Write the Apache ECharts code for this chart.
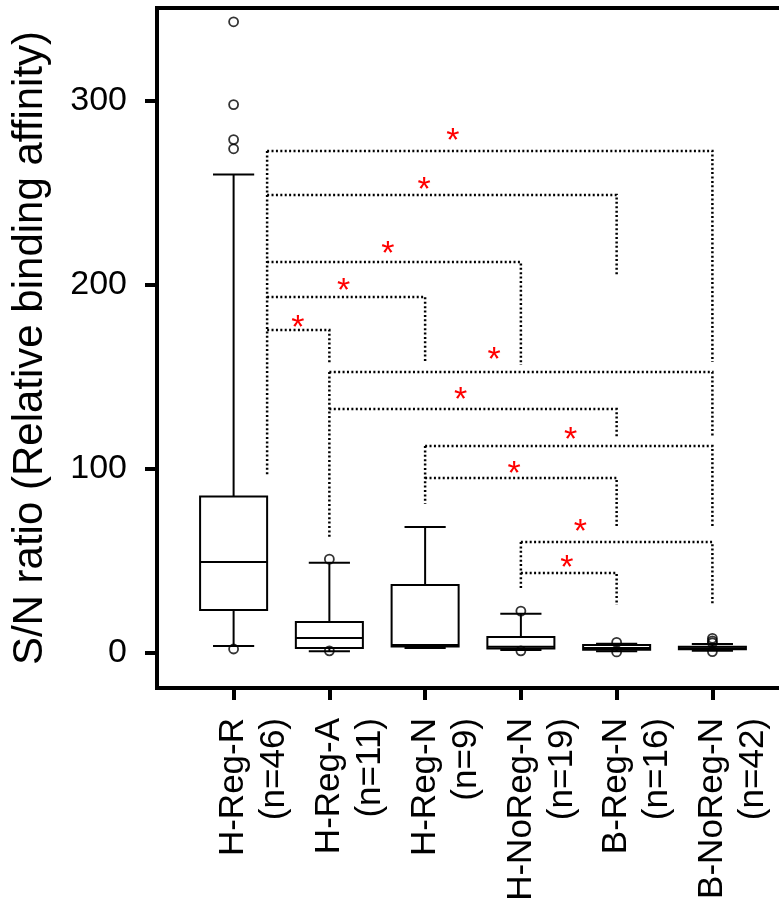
<!DOCTYPE html>
<html>
<head>
<meta charset="utf-8">
<script src="https://cdn.jsdelivr.net/npm/echarts@6.0.0/dist/echarts.min.js"></script>
<style>
  html, body { margin: 0; padding: 0; background: #fff; }
  #chart { width: 779px; height: 901px; }
</style>
</head>
<body>
<div id="chart"></div>
<script>
// groups and sample sizes
const categories = ['H-Reg-R', 'H-Reg-A', 'H-Reg-N', 'H-NoReg-N', 'B-Reg-N', 'B-NoReg-N'];
const counts = [46, 11, 9, 19, 16, 42];

// box statistics per group
const whiskerLow = [3.8, 1.0, 2.7, 1.6, 1.0, 1.3];
const q1 = [23.4, 2.7, 3.5, 2.5, 1.8, 2.0];
const median = [49.5, 8.2, 4.3, 3.4, 2.8, 2.6];
const q3 = [85, 16.8, 37, 8.7, 4.3, 3.4];
const whiskerHigh = [260, 49, 68.5, 21.4, 5.0, 4.9];

// outliers: group number + value
const outlierGroup = [1, 1, 1, 1, 1, 2, 2, 4, 4, 5, 5, 6, 6, 6, 6];
const outlierValue = [343, 298, 279, 274, 2.2, 51, 1.2, 22.8, 1.2, 5.8, 0.6, 8.0, 6.6, 5.6, 0.8];

// significance brackets (from group -> to group at height, right leg ends at drop)
const bracketFrom = [1.35, 1.35, 1.35, 1.35, 1.35, 2, 2, 3, 3, 4, 4];
const bracketTo = [6, 5, 4, 3, 2, 6, 5, 6, 5, 6, 5];
const bracketHeight = [272.8, 248.9, 212.5, 193.5, 175.5, 152.7, 132.6, 112.5, 95.1, 60.3, 43.5];
const bracketDrop = [158.2, 204.9, 156.5, 158.2, 157.6, 117.4, 117.4, 67.9, 67.9, 26.6, 26.1];

// shared left stems of bracket groups
const stemX = [1.35, 2, 3, 4];
const stemTop = [272.8, 152.7, 112.5, 60.3];
const stemBottom = [96.7, 62, 81, 35.3];

// red asterisks
const starX = [3.29, 2.99, 2.61, 2.15, 1.67, 3.72, 3.37, 4.52, 3.93, 4.62, 4.48];
const starY = [282.6, 255.9, 221.2, 201.1, 181.0, 163.6, 141.8, 120.1, 101.6, 70.1, 50.5];

const xTicks = [1, 2, 3, 4, 5, 6];
const yTicks = [0, 100, 200, 300];

function initBoxChart() {
    const chartDom = document.getElementById('chart');
    if (!chartDom) return;
    const chart = echarts.init(chartDom);

    const boxData = categories.map((c, i) => [i + 1, whiskerLow[i], q1[i], median[i], q3[i], whiskerHigh[i]]);
    const outlierData = outlierGroup.map((g, i) => [g, outlierValue[i]]);
    const bracketData = bracketFrom.map((f, i) => [f, bracketTo[i], bracketHeight[i], bracketDrop[i]]);
    const stemData = stemX.map((x, i) => [x, stemTop[i], stemBottom[i]]);
    const starData = starX.map((x, i) => [x, starY[i]]);

    const dotted = { stroke: '#000', lineWidth: 2.5, lineDash: [2, 2.4], fill: null };
    const labelFont = { color: '#000', fontFamily: 'Liberation Sans', fontSize: 35 };
    // second label line sits one line-height (~41px) right of the tick
    const lineShift = 41 / 95.8;

    const option = {
        animation: false,
        grid: {
            left: 157, top: 8, right: -10, bottom: 213,
            show: true, borderColor: '#000', borderWidth: 4,
            containLabel: false, outerBoundsMode: 'none'
        },
        xAxis: [
            {
                type: 'value',
                min: 0.2,
                max: 6.8,
                splitLine: { show: false },
                axisLine: { show: false, onZero: false },
                axisTick: {
                    show: true, customValues: xTicks, length: 12,
                    lineStyle: { color: '#000', width: 4 }
                },
                axisLabel: Object.assign({
                    customValues: xTicks,
                    formatter: v => categories[Math.round(v) - 1],
                    rotate: 90,
                    margin: 30
                }, labelFont)
            },
            {
                type: 'value',
                position: 'bottom',
                min: 0.2 - lineShift,
                max: 6.8 - lineShift,
                splitLine: { show: false },
                axisLine: { show: false, onZero: false },
                axisTick: { show: false },
                axisLabel: Object.assign({
                    customValues: xTicks,
                    formatter: v => '(n=' + counts[Math.round(v) - 1] + ')',
                    rotate: 90,
                    margin: 30
                }, labelFont)
            }
        ],
        yAxis: {
            type: 'value',
            min: -19,
            max: 350.5,
            splitLine: { show: false },
            axisLine: { show: false, onZero: false },
            axisTick: {
                show: true, customValues: yTicks, length: 12,
                lineStyle: { color: '#000', width: 4 }
            },
            axisLabel: {
                customValues: yTicks,
                margin: 30,
                color: '#000',
                fontFamily: 'Liberation Sans',
                fontSize: 34
            },
            name: 'S/N ratio (Relative binding affinity)',
            nameLocation: 'middle',
            nameGap: 106,
            nameTextStyle: { color: '#000', fontFamily: 'Liberation Sans', fontSize: 42 }
        },
        series: [
            {
                type: 'custom',
                data: boxData,
                encode: { x: 0, y: [1, 2, 3, 4, 5] },
                renderItem: function (params, api) {
                    const x = api.value(0);
                    const half = api.size([0.35, 0])[0];
                    const capHalf = api.size([0.215, 0])[0];
                    const lo = api.coord([x, api.value(1)]);
                    const b1 = api.coord([x, api.value(2)]);
                    const md = api.coord([x, api.value(3)]);
                    const b3 = api.coord([x, api.value(4)]);
                    const hi = api.coord([x, api.value(5)]);
                    const cx = lo[0];
                    const style = { stroke: '#000', lineWidth: 2, fill: null };
                    const line = (x1, y1, x2, y2) => ({ type: 'line', shape: { x1, y1, x2, y2 }, style });
                    return {
                        type: 'group',
                        children: [
                            line(cx, hi[1], cx, b3[1]),
                            line(cx, b1[1], cx, lo[1]),
                            line(cx - capHalf, hi[1], cx + capHalf, hi[1]),
                            line(cx - capHalf, lo[1], cx + capHalf, lo[1]),
                            { type: 'rect', shape: { x: cx - half, y: b3[1], width: half * 2, height: b1[1] - b3[1] }, style },
                            line(cx - half, md[1], cx + half, md[1])
                        ]
                    };
                }
            },
            {
                type: 'scatter',
                data: outlierData,
                symbol: 'circle',
                symbolSize: 9,
                itemStyle: { color: 'rgba(0,0,0,0)', borderColor: '#000', borderWidth: 1.8 },
                z: 3
            },
            {
                type: 'custom',
                data: bracketData,
                encode: { x: [0, 1], y: [2, 3] },
                renderItem: function (params, api) {
                    const a = api.coord([api.value(0), api.value(2)]);
                    const b = api.coord([api.value(1), api.value(2)]);
                    const c = api.coord([api.value(1), api.value(3)]);
                    return { type: 'polyline', shape: { points: [a, b, c] }, style: dotted };
                }
            },
            {
                type: 'custom',
                data: stemData,
                encode: { x: 0, y: [1, 2] },
                renderItem: function (params, api) {
                    const a = api.coord([api.value(0), api.value(1)]);
                    const b = api.coord([api.value(0), api.value(2)]);
                    return { type: 'line', shape: { x1: a[0], y1: a[1], x2: b[0], y2: b[1] }, style: dotted };
                }
            },
            {
                type: 'custom',
                data: starData,
                encode: { x: 0, y: 1 },
                renderItem: function (params, api) {
                    const p = api.coord([api.value(0), api.value(1)]);
                    return {
                        type: 'text',
                        style: {
                            text: '*', x: p[0], y: p[1] + 9,
                            fill: '#ff0000', font: '34px "Liberation Sans"',
                            align: 'center', verticalAlign: 'middle'
                        }
                    };
                }
            }
        ]
    };

    chart.setOption(option);
    window.addEventListener('resize', chart.resize);
}

document.addEventListener('DOMContentLoaded', function () {
    if (typeof echarts !== 'undefined') {
        initBoxChart();
    }
});
</script>
</body>
</html>
